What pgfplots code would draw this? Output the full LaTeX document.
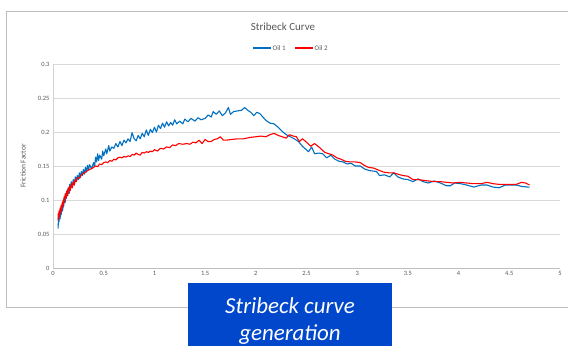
\documentclass[border=0pt]{standalone}
\usepackage{pgfplots}
\pgfplotsset{compat=1.18}
\usepackage{fontspec}
\setmainfont{Carlito}
\definecolor{oilblue}{RGB}{0,112,192}
\definecolor{txtgray}{RGB}{89,89,89}
\definecolor{gridgray}{RGB}{217,217,217}
\definecolor{boxblue}{RGB}{0,71,204}
\definecolor{framegray}{RGB}{190,190,190}
\begin{document}
\begin{tikzpicture}[x=1bp,y=1bp]
\useasboundingbox (0,0) rectangle (568,346);
\clip (0,0) rectangle (568,346);
\fill[white] (0,0) rectangle (568,346);
\draw[line width=0.8bp, framegray] (6,38.3) rectangle (580,334.3);
\begin{axis}[
  at={(53bp,78bp)}, anchor=origin,
  scale only axis, width=507bp, height=204bp,
  xmin=0, xmax=5, ymin=0, ymax=0.3,
  xtick={0,0.5,...,5}, ytick={0,0.05,...,0.3},
  xticklabels={0,0.5,1,1.5,2,2.5,3,3.5,4,4.5,5},
  yticklabels={0,0.05,0.1,0.15,0.2,0.25,0.3},
  axis x line*=bottom, axis y line*=left,
  x axis line style={color={rgb,255:red,191;green,191;blue,191}, line width=0.8bp, -},
  y axis line style={color={rgb,255:red,210;green,210;blue,210}, line width=0.8bp, -},
  ymajorgrids, major grid style={gridgray, line width=0.8bp},
  tick style={draw=none},
  ticklabel style={font=\fontsize{6.5}{8}\selectfont, text=txtgray},
  /pgf/number format/assume math mode=true,
]
\addplot[oilblue, line width=1.1bp, line join=round] coordinates {
(0.05,0.058) (0.055,0.075) (0.06,0.068) (0.065,0.082) (0.07,0.072) (0.075,0.085) (0.08,0.078)
(0.09,0.092) (0.095,0.084) (0.10,0.098) (0.105,0.09) (0.11,0.103) (0.12,0.096) (0.125,0.11)
(0.13,0.102) (0.14,0.115) (0.145,0.106) (0.15,0.118) (0.16,0.11) (0.165,0.123) (0.17,0.114)
(0.18,0.127) (0.19,0.118) (0.2,0.13) (0.21,0.122) (0.22,0.134) (0.23,0.127) (0.24,0.136)
(0.25,0.13) (0.26,0.14) (0.27,0.133) (0.28,0.142) (0.29,0.136) (0.30,0.145) (0.31,0.138)
(0.32,0.148) (0.33,0.141) (0.34,0.151) (0.35,0.144) (0.36,0.152) (0.38,0.146) (0.40,0.155)
(0.41,0.149) (0.42,0.163) (0.43,0.156) (0.44,0.168) (0.45,0.158) (0.46,0.166) (0.48,0.16)
(0.49,0.172) (0.50,0.165) (0.52,0.175) (0.53,0.168) (0.55,0.18) (0.56,0.172) (0.58,0.178)
(0.60,0.176) (0.62,0.183) (0.64,0.178) (0.66,0.186) (0.68,0.18) (0.70,0.188) (0.72,0.184)
(0.74,0.19) (0.76,0.186) (0.78,0.199) (0.80,0.19) (0.82,0.187) (0.84,0.195) (0.86,0.19)
(0.88,0.198) (0.90,0.193) (0.92,0.203) (0.94,0.195) (0.96,0.204) (0.98,0.199) (1.00,0.207)
(1.02,0.2) (1.04,0.21) (1.06,0.205) (1.08,0.213) (1.10,0.207) (1.12,0.215) (1.14,0.209)
(1.16,0.214) (1.18,0.21) (1.20,0.218) (1.22,0.212) (1.25,0.216) (1.28,0.212) (1.30,0.219)
(1.33,0.215) (1.36,0.22) (1.40,0.216) (1.43,0.221) (1.46,0.218) (1.50,0.22) (1.53,0.225)
(1.56,0.222) (1.58,0.23) (1.61,0.226) (1.64,0.231) (1.67,0.224) (1.70,0.228) (1.73,0.236)
(1.75,0.226) (1.78,0.23) (1.82,0.231) (1.86,0.232) (1.89,0.236) (1.92,0.232) (1.95,0.229)
(1.98,0.224) (2.01,0.229) (2.04,0.227) (2.07,0.222) (2.10,0.217) (2.14,0.213) (2.18,0.212)
(2.22,0.207) (2.26,0.201) (2.30,0.196) (2.34,0.193) (2.38,0.19) (2.42,0.186) (2.46,0.179)
(2.49,0.175) (2.52,0.171) (2.55,0.178) (2.58,0.168) (2.62,0.169) (2.66,0.168) (2.70,0.162)
(2.74,0.166) (2.78,0.16) (2.82,0.157) (2.86,0.156) (2.90,0.153) (2.94,0.154) (2.98,0.15)
(3.03,0.15) (3.08,0.145) (3.13,0.143) (3.19,0.142) (3.22,0.136) (3.27,0.137) (3.32,0.134)
(3.36,0.14) (3.40,0.134) (3.45,0.131) (3.50,0.13) (3.55,0.127) (3.60,0.131) (3.65,0.127)
(3.70,0.125) (3.76,0.128) (3.82,0.125) (3.88,0.121) (3.92,0.121) (3.96,0.125) (4.02,0.124)
(4.08,0.122) (4.15,0.119) (4.22,0.122) (4.28,0.122) (4.34,0.119) (4.40,0.118) (4.46,0.122)
(4.52,0.122) (4.57,0.122) (4.62,0.12) (4.68,0.119) (4.70,0.119)
};
\addplot[red, line width=1.1bp, line join=round] coordinates {
(0.05,0.07) (0.052,0.08) (0.055,0.072) (0.06,0.084) (0.065,0.076) (0.07,0.088) (0.075,0.08)
(0.08,0.092) (0.085,0.085) (0.09,0.096) (0.095,0.089) (0.10,0.1) (0.105,0.094) (0.11,0.105)
(0.115,0.098) (0.12,0.109) (0.13,0.103) (0.135,0.113) (0.14,0.107) (0.15,0.117) (0.155,0.11)
(0.16,0.12) (0.17,0.114) (0.18,0.124) (0.19,0.118) (0.20,0.127) (0.21,0.122) (0.22,0.13)
(0.23,0.127) (0.24,0.133) (0.26,0.132) (0.28,0.137) (0.30,0.139) (0.32,0.141) (0.34,0.143)
(0.36,0.145) (0.38,0.146) (0.40,0.148) (0.42,0.15) (0.44,0.149) (0.46,0.153) (0.48,0.152)
(0.50,0.155) (0.52,0.156) (0.54,0.155) (0.56,0.158) (0.58,0.157) (0.60,0.16) (0.62,0.159)
(0.64,0.162) (0.66,0.163) (0.68,0.162) (0.70,0.164) (0.72,0.163) (0.74,0.165) (0.76,0.164)
(0.78,0.167) (0.80,0.166) (0.82,0.169) (0.84,0.167) (0.86,0.166) (0.88,0.17) (0.90,0.169)
(0.92,0.171) (0.94,0.17) (0.96,0.172) (0.98,0.171) (1.00,0.174) (1.03,0.172) (1.06,0.176)
(1.09,0.175) (1.12,0.178) (1.15,0.177) (1.18,0.181) (1.21,0.18) (1.24,0.183) (1.28,0.182)
(1.32,0.183) (1.35,0.182) (1.38,0.185) (1.41,0.184) (1.44,0.188) (1.47,0.183) (1.50,0.189)
(1.53,0.186) (1.56,0.186) (1.59,0.189) (1.62,0.19) (1.65,0.193) (1.68,0.188) (1.71,0.188)
(1.76,0.189) (1.82,0.19) (1.88,0.19) (1.94,0.192) (2.00,0.193) (2.05,0.194) (2.10,0.193)
(2.14,0.196) (2.18,0.198) (2.22,0.195) (2.26,0.193) (2.30,0.191) (2.33,0.196) (2.37,0.194)
(2.40,0.193) (2.43,0.186) (2.46,0.19) (2.50,0.185) (2.54,0.179) (2.58,0.183) (2.63,0.177)
(2.68,0.17) (2.72,0.168) (2.76,0.166) (2.80,0.162) (2.84,0.16) (2.88,0.157) (2.93,0.156)
(2.98,0.156) (3.03,0.155) (3.07,0.151) (3.11,0.148) (3.16,0.147) (3.21,0.144) (3.26,0.141)
(3.31,0.14) (3.36,0.14) (3.40,0.138) (3.45,0.136) (3.50,0.135) (3.55,0.13) (3.60,0.13)
(3.65,0.129) (3.70,0.128) (3.76,0.127) (3.82,0.127) (3.88,0.126) (3.95,0.125) (4.01,0.126)
(4.08,0.125) (4.15,0.124) (4.22,0.124) (4.28,0.126) (4.34,0.124) (4.40,0.123) (4.46,0.123)
(4.52,0.123) (4.57,0.123) (4.62,0.126) (4.66,0.125) (4.70,0.122)
};
\end{axis}
\fill[boxblue] (188,0) rectangle (392,63);
% legend samples
\fill[fill=oilblue] (253,297.3) rectangle (271,299.3);
\fill[fill=red] (295,297.3) rectangle (313,299.3);
\node[font=\fontsize{11}{13}\selectfont, text=txtgray] at (283,319) {Stribeck Curve};
\node[rotate=90, font=\fontsize{7.5}{9}\selectfont, text=txtgray] at (23,180) {Friction Factor};
\node[anchor=west, inner sep=0pt, font=\fontsize{7}{8}\selectfont, text=txtgray] at (272.5,298.3) {Oil 1};
\node[anchor=west, inner sep=0pt, font=\fontsize{7}{8}\selectfont, text=txtgray] at (314.5,298.3) {Oil 2};
\node[text=white, font=\fontsize{23}{27}\selectfont\itshape, anchor=base] at (290,33) {Stribeck curve};
\node[text=white, font=\fontsize{23}{27}\selectfont\itshape, anchor=base] at (290,6) {generation};
\end{tikzpicture}
\end{document}
